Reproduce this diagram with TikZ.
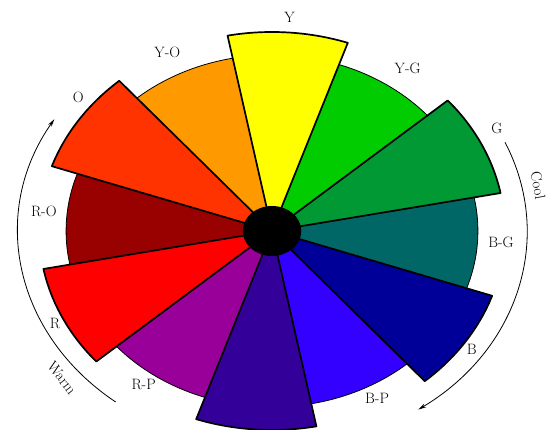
\documentclass[tikz,border=0pt]{standalone}
\usepackage{tikz}
\usetikzlibrary{arrows.meta}
\usepackage{xcolor}
\definecolor{hueY}{HTML}{FFFF00}
\definecolor{hueYG}{HTML}{00CC00}
\definecolor{hueG}{HTML}{009933}
\definecolor{hueBG}{HTML}{006666}
\definecolor{hueB}{HTML}{000099}
\definecolor{hueBP}{HTML}{3300FF}
\definecolor{hueP}{HTML}{330099}
\definecolor{hueRP}{HTML}{990099}
\definecolor{hueR}{HTML}{FF0000}
\definecolor{hueRO}{HTML}{990000}
\definecolor{hueO}{HTML}{FF3300}
\definecolor{hueYO}{HTML}{FF9900}
\begin{document}
\begin{tikzpicture}[x=1pt,y=1pt,
  font=\fontsize{15}{17}\selectfont,
  tint/.style={draw=black,line width=0.8pt,line join=round},
  pure/.style={draw=black,line width=1.7pt,line join=round},
  lbl/.style={inner sep=1pt},
  sweep/.style={-{Stealth[length=8pt,width=4pt]},line width=0.8pt}]
\useasboundingbox (0,0) rectangle (550,430);
\begin{scope}[shift={(272,199)},xscale=1.17]
\coordinate (hub) at (0,0);
% tertiary hues
\foreach \a/\c in {101/YO,41/YG,-19/BG,-79/BP,-139/RP,161/RO}
  \draw[tint,fill=hue\c] (hub) -- (\a:176)
    arc[start angle=\a,delta angle=30,radius=176] -- cycle;
% primary and secondary hues
\foreach \a/\c in {71/Y,11/G,-49/B,-109/P,-169/R,131/O}
  \draw[pure,fill=hue\c] (hub) -- (\a:199)
    arc[start angle=\a,delta angle=30,radius=199] -- cycle;
\fill[black] (hub) circle[radius=25];
% hue names
\foreach \a/\r/\t/\n in {86/214/Y/y,54.6/200/Y-G/yg,28.2/218/G/g,
    -3.2/196/B-G/bg,-34.8/208/B/b,-61.8/190/B-P/bp,234.5/189/R-P/rp,
    206.4/207/R/r,174.4/196/R-O/ro,141/213/O/o,116.6/200/Y-O/yo}
  \node[lbl] (l\n) at (\a:\r) {\t};
% warm and cool sides
\coordinate (warmS) at (232:217);
\coordinate (coolS) at (24:218);
\draw[sweep] (warmS) arc[start angle=232,end angle=149,radius=217];
\draw[sweep] (coolS) arc[start angle=24,end angle=-55,radius=218];
\node[lbl,rotate=-52] (warm) at (219.3:232) {Warm};
\node[lbl,rotate=-80] (cool) at (11.4:232) {Cool};
\end{scope}
\end{tikzpicture}
\end{document}
